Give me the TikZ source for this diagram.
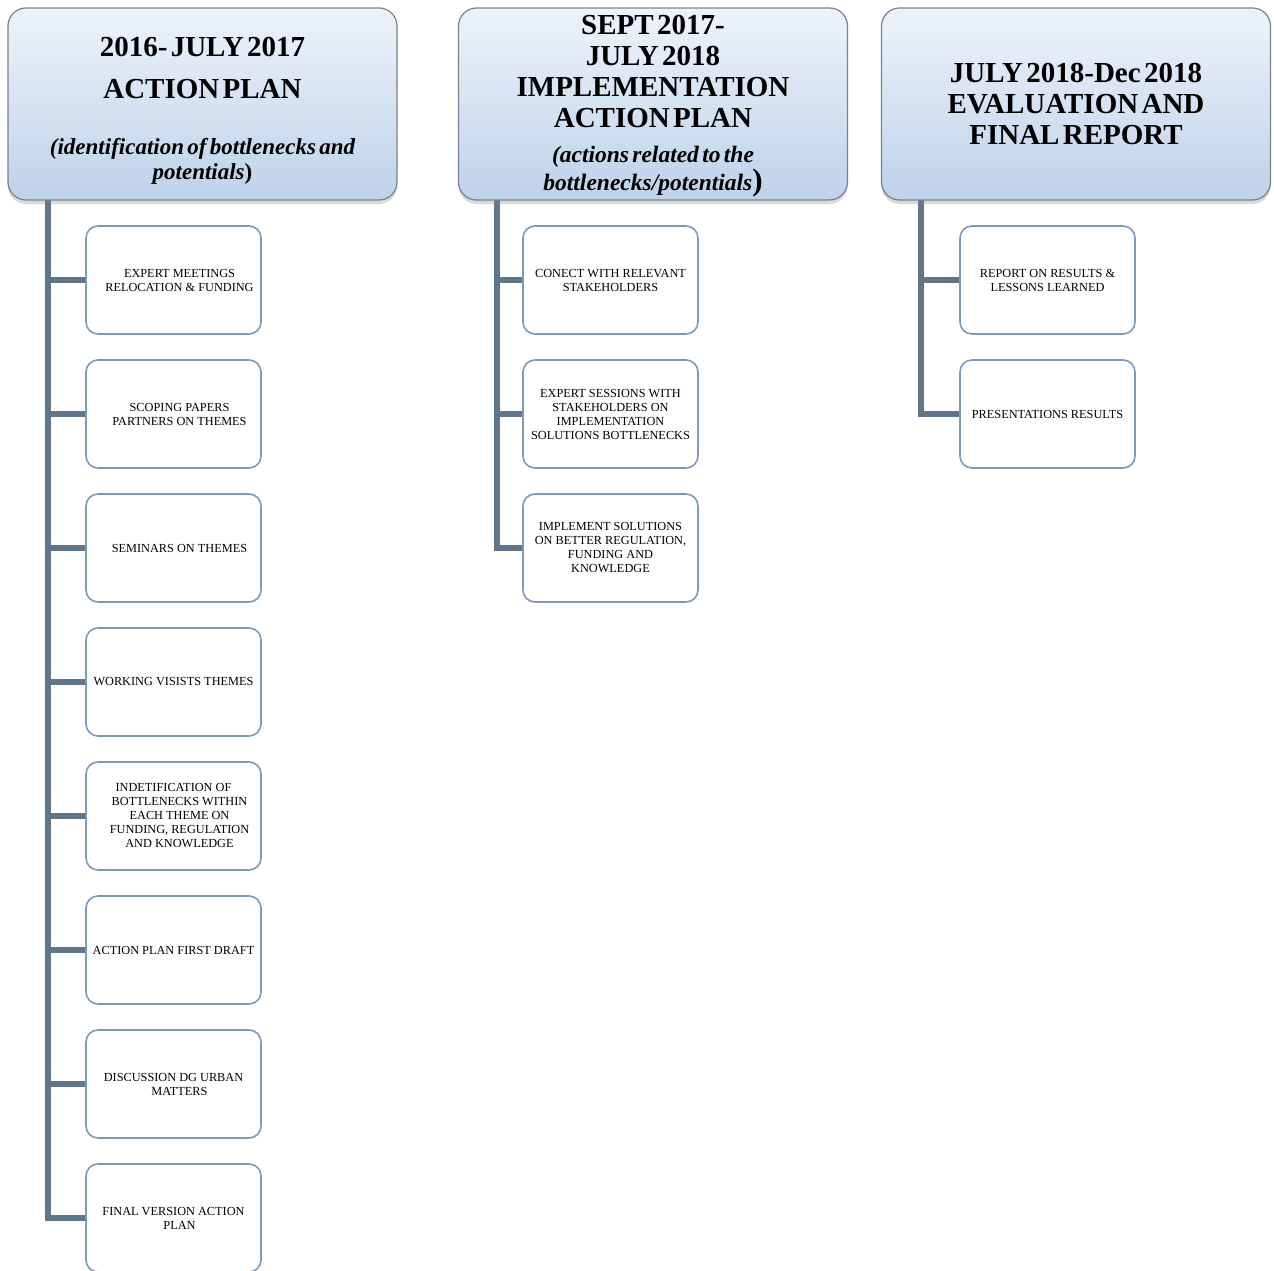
\documentclass[tikz,border=0pt]{standalone}
\usepackage{fontspec}
\setmainfont{Liberation Serif}
\usetikzlibrary{shadows}
\definecolor{hdrtop}{RGB}{238,243,250}
\definecolor{hdrbot}{RGB}{190,210,234}
\definecolor{hdrline}{RGB}{120,130,142}
\definecolor{boxline}{RGB}{125,155,185}
\definecolor{connc}{RGB}{98,118,138}
\newcommand{\ind}{\hspace*{12pt}}
\tikzset{
  hdr/.style={rectangle, rounded corners=18pt, draw=hdrline, line width=1.2pt,
    top color=hdrtop, bottom color=hdrbot, minimum width=389pt, minimum height=192pt,
    inner sep=0pt,
    drop shadow={shadow xshift=0pt, shadow yshift=-4pt, opacity=0.3}},
  hdrtext/.style={text width=380pt, align=center, inner sep=0pt},
  item/.style={rectangle, rounded corners=12pt, draw=boxline, line width=1.6pt, fill=white,
    minimum width=175pt, minimum height=108pt, align=center, inner sep=0pt,
    font=\fontsize{12.3}{14}\selectfont},
  conn/.style={draw=connc, line width=6pt},
}
\begin{document}
\begin{tikzpicture}[x=1pt,y=-1pt]
\useasboundingbox (0,0) rectangle (1274,1271);
% child boxes, column 1
\node[item] (a1) at (173.5,280) {\ind EXPERT MEETINGS\\\ind RELOCATION \& FUNDING};
\node[item] (a2) at (173.5,414) {\ind SCOPING PAPERS\\\ind PARTNERS ON THEMES};
\node[item] (a3) at (173.5,548) {\ind SEMINARS ON THEMES};
\node[item] (a4) at (173.5,682) {WORKING VISISTS THEMES};
\node[item] (a5) at (173.5,816) {INDETIFICATION OF\\\ind BOTTLENECKS WITHIN\\\ind EACH THEME ON\\\ind FUNDING, REGULATION\\\ind AND KNOWLEDGE};
\node[item] (a6) at (173.5,950) {ACTION PLAN FIRST DRAFT};
\node[item] (a7) at (173.5,1084) {DISCUSSION DG URBAN\\\ind MATTERS};
\node[item] (a8) at (173.5,1218) {FINAL VERSION ACTION\\\ind PLAN};
% column 2
\node[item] (b1) at (610.5,280) {CONECT WITH RELEVANT\\STAKEHOLDERS};
\node[item] (b2) at (610.5,414) {EXPERT SESSIONS WITH\\STAKEHOLDERS ON\\IMPLEMENTATION\\SOLUTIONS BOTTLENECKS};
\node[item] (b3) at (610.5,548) {IMPLEMENT SOLUTIONS\\ON BETTER REGULATION,\\FUNDING AND\\KNOWLEDGE};
% column 3
\node[item] (c1) at (1047.5,280) {REPORT ON RESULTS \&\\LESSONS LEARNED};
\node[item] (c2) at (1047.5,414) {PRESENTATIONS RESULTS};
% trunk tops
\coordinate (v1) at (48,200);
\coordinate (v2) at (497,200);
\coordinate (v3) at (921,200);
% connectors
\draw[conn] (v1) |- (a8.west);
\draw[conn] (v1 |- a1.west) -- (a1.west);
\draw[conn] (v1 |- a2.west) -- (a2.west);
\draw[conn] (v1 |- a3.west) -- (a3.west);
\draw[conn] (v1 |- a4.west) -- (a4.west);
\draw[conn] (v1 |- a5.west) -- (a5.west);
\draw[conn] (v1 |- a6.west) -- (a6.west);
\draw[conn] (v1 |- a7.west) -- (a7.west);
\draw[conn] (v2) |- (b3.west);
\draw[conn] (v2 |- b1.west) -- (b1.west);
\draw[conn] (v2 |- b2.west) -- (b2.west);
\draw[conn] (v3) |- (c2.west);
\draw[conn] (v3 |- c1.west) -- (c1.west);
% headers
\node[hdr] (h1) at (202.5,104) {};
\node[hdr] (h2) at (653,104) {};
\node[hdr] (h3) at (1076,104) {};
\node[hdrtext] (h1t) at (202.5,110.5) {{\fontsize{29}{42}\selectfont\bfseries 2016- JULY 2017\par ACTION PLAN\par}\vspace{31pt}{\fontsize{23}{25}\selectfont\bfseries\itshape (identification of bottlenecks and\par potentials{\upshape)}\par}};
\node[hdrtext] (h2t) at (653,106) {{\fontsize{29}{31}\selectfont\bfseries SEPT 2017-\par JULY 2018\par IMPLEMENTATION\par ACTION PLAN\par}\vspace{7pt}{\fontsize{23.5}{28}\selectfont\bfseries\itshape (actions related to the\par bottlenecks/potentials{\upshape\fontsize{31}{28}\selectfont)}\par}};
\node[hdrtext] (h3t) at (1076,104) {{\fontsize{29}{31}\selectfont\bfseries JULY 2018-Dec 2018\par EVALUATION AND\par FINAL REPORT\par}};
\end{tikzpicture}
\end{document}
